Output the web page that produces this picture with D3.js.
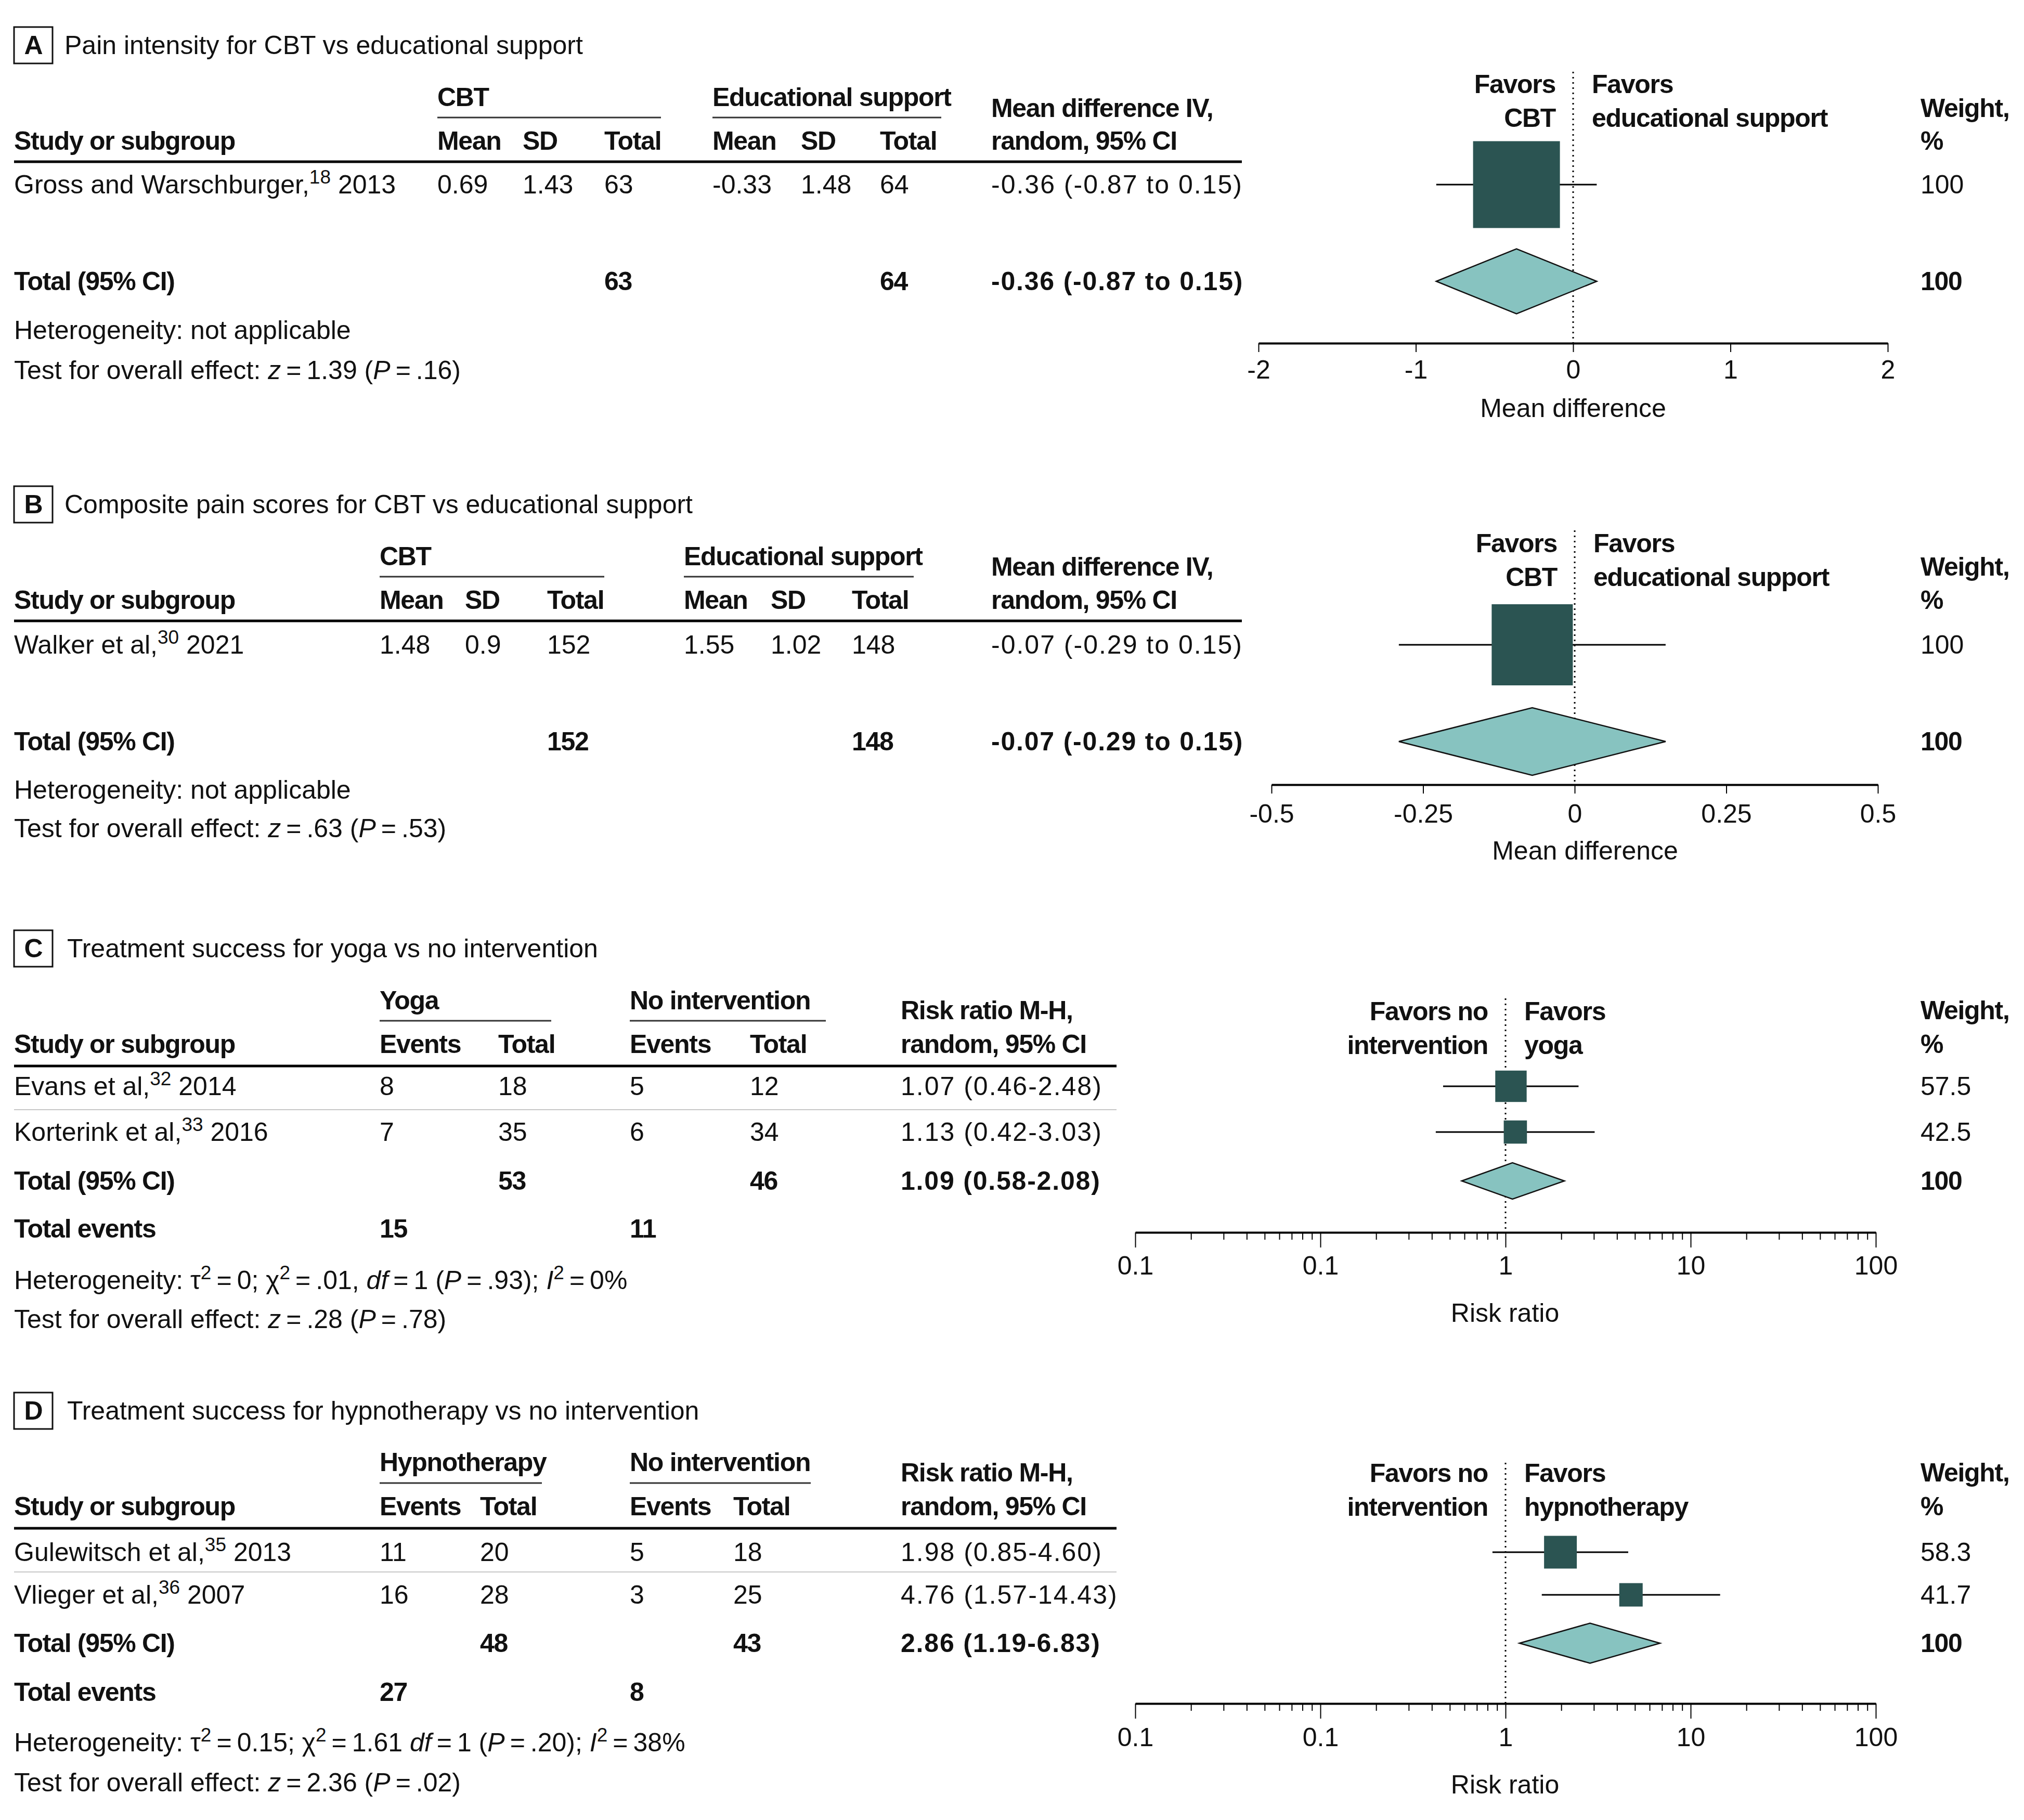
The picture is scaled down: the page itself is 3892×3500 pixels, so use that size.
<!DOCTYPE html>
<html><head><meta charset="utf-8">
<script src="https://cdn.jsdelivr.net/npm/d3@7"></script>
<style>
html,body{margin:0;padding:0;background:#fff;}
svg text{font-family:"Liberation Sans", Arial, sans-serif; font-size:50px; fill:#111;}
svg text[font-weight="bold"]{letter-spacing:-1.3px;}
svg text.ci{letter-spacing:2px;}
svg text.ci[font-weight="bold"]{letter-spacing:1.8px;}
</style></head><body>
<svg id="chart" width="3892" height="3500"></svg>
<script>
// ================= DATA =================
// Panel A – Pain intensity, CBT vs educational support (mean difference)
const aStudies = ["Gross and Warschburger,"];
const aRefs = ["18"];
const aYears = ["2013"];
const aMean1 = [0.69], aSD1 = [1.43], aN1 = [63];
const aMean2 = [-0.33], aSD2 = [1.48], aN2 = [64];
const aEst = [-0.36], aLo = [-0.87], aHi = [0.15], aWeight = [100];
const aTotals = [63, 64];
const aPooled = [-0.36, -0.87, 0.15];
const aTicks = [-2, -1, 0, 1, 2];
const aTickLabels = ["-2", "-1", "0", "1", "2"];

// Panel B – Composite pain scores, CBT vs educational support
const bStudies = ["Walker et al,"];
const bRefs = ["30"];
const bYears = ["2021"];
const bMean1 = [1.48], bSD1 = [0.9], bN1 = [152];
const bMean2 = [1.55], bSD2 = [1.02], bN2 = [148];
const bEst = [-0.07], bLo = [-0.29], bHi = [0.15], bWeight = [100];
const bTotals = [152, 148];
const bPooled = [-0.07, -0.29, 0.15];
const bTicks = [-0.5, -0.25, 0, 0.25, 0.5];
const bTickLabels = ["-0.5", "-0.25", "0", "0.25", "0.5"];

// Panel C – Treatment success, yoga vs no intervention (risk ratio)
const cStudies = ["Evans et al,", "Korterink et al,"];
const cRefs = ["32", "33"];
const cYears = ["2014", "2016"];
const cEv1 = [8, 7], cN1 = [18, 35];
const cEv2 = [5, 6], cN2 = [12, 34];
const cEst = [1.07, 1.13], cLo = [0.46, 0.42], cHi = [2.48, 3.03], cWeight = [57.5, 42.5];
const cTotals = [53, 46];
const cTotalEvents = [15, 11];
const cPooled = [1.09, 0.58, 2.08];

// Panel D – Treatment success, hypnotherapy vs no intervention
const dStudies = ["Gulewitsch et al,", "Vlieger et al,"];
const dRefs = ["35", "36"];
const dYears = ["2013", "2007"];
const dEv1 = [11, 16], dN1 = [20, 28];
const dEv2 = [5, 3], dN2 = [18, 25];
const dEst = [1.98, 4.76], dLo = [0.85, 1.57], dHi = [4.60, 14.43], dWeight = [58.3, 41.7];
const dTotals = [48, 43];
const dTotalEvents = [27, 8];
const dPooled = [2.86, 1.19, 6.83];

const rrTicks = [0.01, 0.1, 1, 10, 100];
const rrTickLabels = ["0.1", "0.1", "1", "10", "100"];

// Footnote text segments
const aHet = [{t: "Heterogeneity: not applicable"}];
const aTest = [{t: "Test for overall effect: "}, {t: "z", it: true}, {t: "\u2009=\u20091.39 ("}, {t: "P", it: true}, {t: "\u2009=\u2009.16)"}];
const bHet = [{t: "Heterogeneity: not applicable"}];
const bTest = [{t: "Test for overall effect: "}, {t: "z", it: true}, {t: "\u2009=\u2009.63 ("}, {t: "P", it: true}, {t: "\u2009=\u2009.53)"}];
const cHet = [{t: "Heterogeneity: \u03C4"}, {t: "2", sup: true}, {t: "\u2009=\u20090; \u03C7"}, {t: "2", sup: true},
  {t: "\u2009=\u2009.01, "}, {t: "df", it: true}, {t: "\u2009=\u20091 ("}, {t: "P", it: true}, {t: "\u2009=\u2009.93); "},
  {t: "I", it: true}, {t: "2", sup: true}, {t: "\u2009=\u20090%"}];
const cTest = [{t: "Test for overall effect: "}, {t: "z", it: true}, {t: "\u2009=\u2009.28 ("}, {t: "P", it: true}, {t: "\u2009=\u2009.78)"}];
const dHet = [{t: "Heterogeneity: \u03C4"}, {t: "2", sup: true}, {t: "\u2009=\u20090.15; \u03C7"}, {t: "2", sup: true},
  {t: "\u2009=\u20091.61 "}, {t: "df", it: true}, {t: "\u2009=\u20091 ("}, {t: "P", it: true}, {t: "\u2009=\u2009.20); "},
  {t: "I", it: true}, {t: "2", sup: true}, {t: "\u2009=\u200938%"}];
const dTest = [{t: "Test for overall effect: "}, {t: "z", it: true}, {t: "\u2009=\u20092.36 ("}, {t: "P", it: true}, {t: "\u2009=\u2009.02)"}];

// ================= DRAWING =================
const svg = d3.select("#chart");
const BASE = 17;
const SQUARE = "#2B5452", DIAMOND = "#87C3C0";

function addText(g, x, y, s, o = {}) {
  return g.append("text").attr("x", x).attr("y", y + BASE)
    .attr("text-anchor", o.anchor || "start")
    .attr("class", o.cls || null)
    .attr("font-weight", o.bold ? "bold" : null).text(s);
}
function addRich(g, x, y, segs, o = {}) {
  const t = g.append("text").attr("x", x).attr("y", y + BASE)
    .attr("font-weight", o.bold ? "bold" : null);
  let up = false;
  segs.forEach(s => {
    const sp = t.append("tspan").text(s.t);
    if (s.sup) { sp.attr("font-size", 37); if (!up) { sp.attr("dy", -19); up = true; } }
    else if (up) { sp.attr("dy", 19); up = false; }
    if (s.it) sp.attr("font-style", "italic");
  });
  return t;
}
const fmt = v => String(v);
const f2 = v => v.toFixed(2);

function drawPanel(P) {
  const g = svg.append("g");
  // letter box + title
  g.append("rect").attr("x", 27).attr("y", P.titleY - 35).attr("width", 74).attr("height", 70)
    .attr("fill", "none").attr("stroke", "#111").attr("stroke-width", 3);
  addText(g, 64, P.titleY, P.letter, {anchor: "middle", bold: true});
  addText(g, P.titleX, P.titleY, P.title);

  // group headers
  P.groups.forEach(gr => {
    addText(g, gr.x, P.groupY, gr.label, {bold: true});
    g.append("line").attr("x1", gr.x).attr("x2", gr.x2).attr("y1", P.underY).attr("y2", P.underY)
      .attr("stroke", "#333").attr("stroke-width", 3);
  });
  addText(g, 27, P.subY, "Study or subgroup", {bold: true});
  P.subCols.forEach((c, i) => addText(g, P.colX[i], P.subY, c, {bold: true}));
  addText(g, P.effX, P.effY[0], P.effHead[0], {bold: true});
  addText(g, P.effX, P.effY[1], P.effHead[1], {bold: true});
  // rule
  g.append("line").attr("x1", 27).attr("x2", P.ruleX2).attr("y1", P.ruleY).attr("y2", P.ruleY)
    .attr("stroke", "#000").attr("stroke-width", 5);
  (P.sepY || []).forEach(y => g.append("line").attr("x1", 27).attr("x2", P.ruleX2).attr("y1", y).attr("y2", y)
    .attr("stroke", "#c8c8c8").attr("stroke-width", 2));

  // scale + axis
  const x = P.scale;
  const axis = d3.axisBottom(x).tickValues(P.ticks).tickFormat((d, i) => P.tickLabels[i])
    .tickSize(P.tickSize).tickSizeOuter(0).tickPadding(P.tickPad);
  const ax = g.append("g").attr("transform", `translate(0,${P.axisY})`).call(axis);
  ax.select(".domain").attr("stroke", "#000").attr("stroke-width", 4);
  ax.selectAll(".tick line").attr("stroke", "#000").attr("stroke-width", 2);
  ax.selectAll(".tick text").attr("font-size", 50).attr("font-family", "Liberation Sans, Arial, sans-serif").attr("fill", "#111");
  if (P.minor) {
    const minors = [];
    [0.01, 0.1, 1, 10].forEach(dec => { for (let k = 2; k <= 9; k++) minors.push(dec * k); });
    const ax2 = g.append("g").attr("transform", `translate(0,${P.axisY})`)
      .call(d3.axisBottom(x).tickValues(minors).tickFormat("").tickSize(P.minor).tickSizeOuter(0));
    ax2.select(".domain").remove();
    ax2.selectAll(".tick line").attr("stroke", "#000").attr("stroke-width", 2);
  }
  addText(g, P.axisTitleX, P.axisTitleY, P.axisTitle, {anchor: "middle"});

  // null line
  const x0 = x(P.nullV);
  g.append("line").attr("x1", x0).attr("x2", x0).attr("y1", P.nullTop).attr("y2", P.axisY)
    .attr("stroke", "#000").attr("stroke-width", 3).attr("stroke-dasharray", "3,7");
  // favors labels
  addText(g, x0 - 34, P.favY[0], P.favL[0], {anchor: "end", bold: true});
  addText(g, x0 - 34, P.favY[1], P.favL[1], {anchor: "end", bold: true});
  addText(g, x0 + 36, P.favY[0], P.favR[0], {bold: true});
  addText(g, x0 + 36, P.favY[1], P.favR[1], {bold: true});
  addText(g, 3693, P.effY[0], "Weight,", {bold: true});
  addText(g, 3693, P.effY[1], "%", {bold: true});

  // study rows
  P.studies.forEach((s, i) => {
    const y = P.rowY[i];
    addRich(g, 27, y, [{t: s}, {t: P.refs[i], sup: true}, {t: " " + P.years[i]}]);
    P.cells.forEach((arr, j) => addText(g, P.colX[j], y, fmt(arr[i])));
    addText(g, P.effX, y, P.ciText(P.est[i], P.lo[i], P.hi[i]), {cls: "ci"});
    addText(g, 3693, y, fmt(P.weight[i]));
    g.append("line").attr("x1", x(P.lo[i])).attr("x2", x(P.hi[i])).attr("y1", y).attr("y2", y)
      .attr("stroke", "#000").attr("stroke-width", 3);
    const sz = P.weight[i] * P.boxScale;
    g.append("rect").attr("x", x(P.est[i]) - sz / 2).attr("y", y - sz / 2)
      .attr("width", sz).attr("height", sz).attr("fill", SQUARE);
  });

  // total row
  const ty = P.totalY;
  addText(g, 27, ty, "Total (95% CI)", {bold: true});
  P.totals.forEach((v, k) => addText(g, P.colX[P.totalCols[k]], ty, fmt(v), {bold: true}));
  addText(g, P.effX, ty, P.ciText(P.pooled[0], P.pooled[1], P.pooled[2]), {bold: true, cls: "ci"});
  addText(g, 3693, ty, "100", {bold: true});
  const h = P.diamondH / 2;
  const pts = [[x(P.pooled[1]), ty], [x(P.pooled[0]), ty - h], [x(P.pooled[2]), ty], [x(P.pooled[0]), ty + h]];
  g.append("path").attr("d", d3.line()(pts) + "Z").attr("fill", DIAMOND)
    .attr("stroke", "#111").attr("stroke-width", 2.5).attr("stroke-linejoin", "miter");

  if (P.totalEvents) {
    addText(g, 27, P.eventsY, "Total events", {bold: true});
    P.totalEvents.forEach((v, k) => addText(g, P.colX[P.eventCols[k]], P.eventsY, fmt(v), {bold: true}));
  }
  addRich(g, 27, P.hetY, P.het);
  addRich(g, 27, P.testY, P.test);
}

const mdText = (e, l, h) => `${f2(e)} (${f2(l)} to ${f2(h)})`;
const rrText = (e, l, h) => `${f2(e)} (${f2(l)}-${f2(h)})`;

drawPanel({
  letter: "A", title: "Pain intensity for CBT vs educational support", titleX: 124, titleY: 87,
  groups: [{label: "CBT", x: 841, x2: 1271}, {label: "Educational support", x: 1370, x2: 1810}],
  groupY: 187, underY: 226, subY: 271,
  subCols: ["Mean", "SD", "Total", "Mean", "SD", "Total"], colX: [841, 1005, 1162, 1370, 1540, 1692],
  effX: 1906, effY: [208, 271], effHead: ["Mean difference IV,", "random, 95% CI"],
  ruleY: 311, ruleX2: 2388,
  scale: d3.scaleLinear().domain([-2, 2]).range([2420, 3630]),
  ticks: aTicks, tickLabels: aTickLabels, tickSize: 17, tickPad: 15, axisY: 660,
  axisTitle: "Mean difference", axisTitleX: 3025, axisTitleY: 785,
  nullV: 0, nullTop: 138, favY: [162, 227], favL: ["Favors", "CBT"], favR: ["Favors", "educational support"],
  studies: aStudies, refs: aRefs, years: aYears, rowY: [355],
  cells: [aMean1, aSD1, aN1, aMean2, aSD2, aN2],
  est: aEst, lo: aLo, hi: aHi, weight: aWeight, ciText: mdText, boxScale: 1.67,
  totalY: 541, totals: aTotals, totalCols: [2, 5], pooled: aPooled, diamondH: 125,
  hetY: 635, testY: 712, het: aHet, test: aTest
});

drawPanel({
  letter: "B", title: "Composite pain scores for CBT vs educational support", titleX: 124, titleY: 970,
  groups: [{label: "CBT", x: 730, x2: 1162}, {label: "Educational support", x: 1315, x2: 1757}],
  groupY: 1070, underY: 1109, subY: 1154,
  subCols: ["Mean", "SD", "Total", "Mean", "SD", "Total"], colX: [730, 894, 1052, 1315, 1482, 1638],
  effX: 1906, effY: [1090, 1154], effHead: ["Mean difference IV,", "random, 95% CI"],
  ruleY: 1194, ruleX2: 2388,
  scale: d3.scaleLinear().domain([-0.5, 0.5]).range([2445, 3611]),
  ticks: bTicks, tickLabels: bTickLabels, tickSize: 17, tickPad: 20, axisY: 1509,
  axisTitle: "Mean difference", axisTitleX: 3048, axisTitleY: 1636,
  nullV: 0, nullTop: 1020, favY: [1045, 1110], favL: ["Favors", "CBT"], favR: ["Favors", "educational support"],
  studies: bStudies, refs: bRefs, years: bYears, rowY: [1240],
  cells: [bMean1, bSD1, bN1, bMean2, bSD2, bN2],
  est: bEst, lo: bLo, hi: bHi, weight: bWeight, ciText: mdText, boxScale: 1.56,
  totalY: 1426, totals: bTotals, totalCols: [2, 5], pooled: bPooled, diamondH: 130,
  hetY: 1519, testY: 1593, het: bHet, test: bTest
});

drawPanel({
  letter: "C", title: "Treatment success for yoga vs no intervention", titleX: 129, titleY: 1824,
  groups: [{label: "Yoga", x: 730, x2: 1060}, {label: "No intervention", x: 1211, x2: 1588}],
  groupY: 1924, underY: 1963, subY: 2008,
  subCols: ["Events", "Total", "Events", "Total"], colX: [730, 958, 1211, 1442],
  effX: 1732, effY: [1943, 2008], effHead: ["Risk ratio M-H,", "random, 95% CI"],
  ruleY: 2050, ruleX2: 2147, sepY: [2134],
  scale: d3.scaleLog().domain([0.01, 100]).range([2183, 3607]),
  ticks: rrTicks, tickLabels: rrTickLabels, tickSize: 29, tickPad: 16, minor: 14, axisY: 2370,
  axisTitle: "Risk ratio", axisTitleX: 2894, axisTitleY: 2525,
  nullV: 1, nullTop: 1920, favY: [1945, 2010], favL: ["Favors no", "intervention"], favR: ["Favors", "yoga"],
  studies: cStudies, refs: cRefs, years: cYears, rowY: [2089, 2177],
  cells: [cEv1, cN1, cEv2, cN2],
  est: cEst, lo: cLo, hi: cHi, weight: cWeight, ciText: rrText, boxScale: 1.05,
  totalY: 2271, totals: cTotals, totalCols: [1, 3], pooled: cPooled, diamondH: 70,
  eventsY: 2363, totalEvents: cTotalEvents, eventCols: [0, 2],
  hetY: 2462, testY: 2537, het: cHet, test: cTest
});

drawPanel({
  letter: "D", title: "Treatment success for hypnotherapy vs no intervention", titleX: 129, titleY: 2713,
  groups: [{label: "Hypnotherapy", x: 730, x2: 1042}, {label: "No intervention", x: 1211, x2: 1559}],
  groupY: 2812, underY: 2852, subY: 2897,
  subCols: ["Events", "Total", "Events", "Total"], colX: [730, 923, 1211, 1410],
  effX: 1732, effY: [2832, 2897], effHead: ["Risk ratio M-H,", "random, 95% CI"],
  ruleY: 2939, ruleX2: 2147, sepY: [3023],
  scale: d3.scaleLog().domain([0.01, 100]).range([2183, 3607]),
  ticks: rrTicks, tickLabels: rrTickLabels, tickSize: 29, tickPad: 17, minor: 14, axisY: 3276,
  axisTitle: "Risk ratio", axisTitleX: 2894, axisTitleY: 3432,
  nullV: 1, nullTop: 2813, favY: [2833, 2898], favL: ["Favors no", "intervention"], favR: ["Favors", "hypnotherapy"],
  studies: dStudies, refs: dRefs, years: dYears, rowY: [2985, 3067],
  cells: [dEv1, dN1, dEv2, dN2],
  est: dEst, lo: dLo, hi: dHi, weight: dWeight, ciText: rrText, boxScale: 1.08,
  totalY: 3160, totals: dTotals, totalCols: [1, 3], pooled: dPooled, diamondH: 77,
  eventsY: 3254, totalEvents: dTotalEvents, eventCols: [0, 2],
  hetY: 3351, testY: 3428, het: dHet, test: dTest
});
</script>
</body></html>
